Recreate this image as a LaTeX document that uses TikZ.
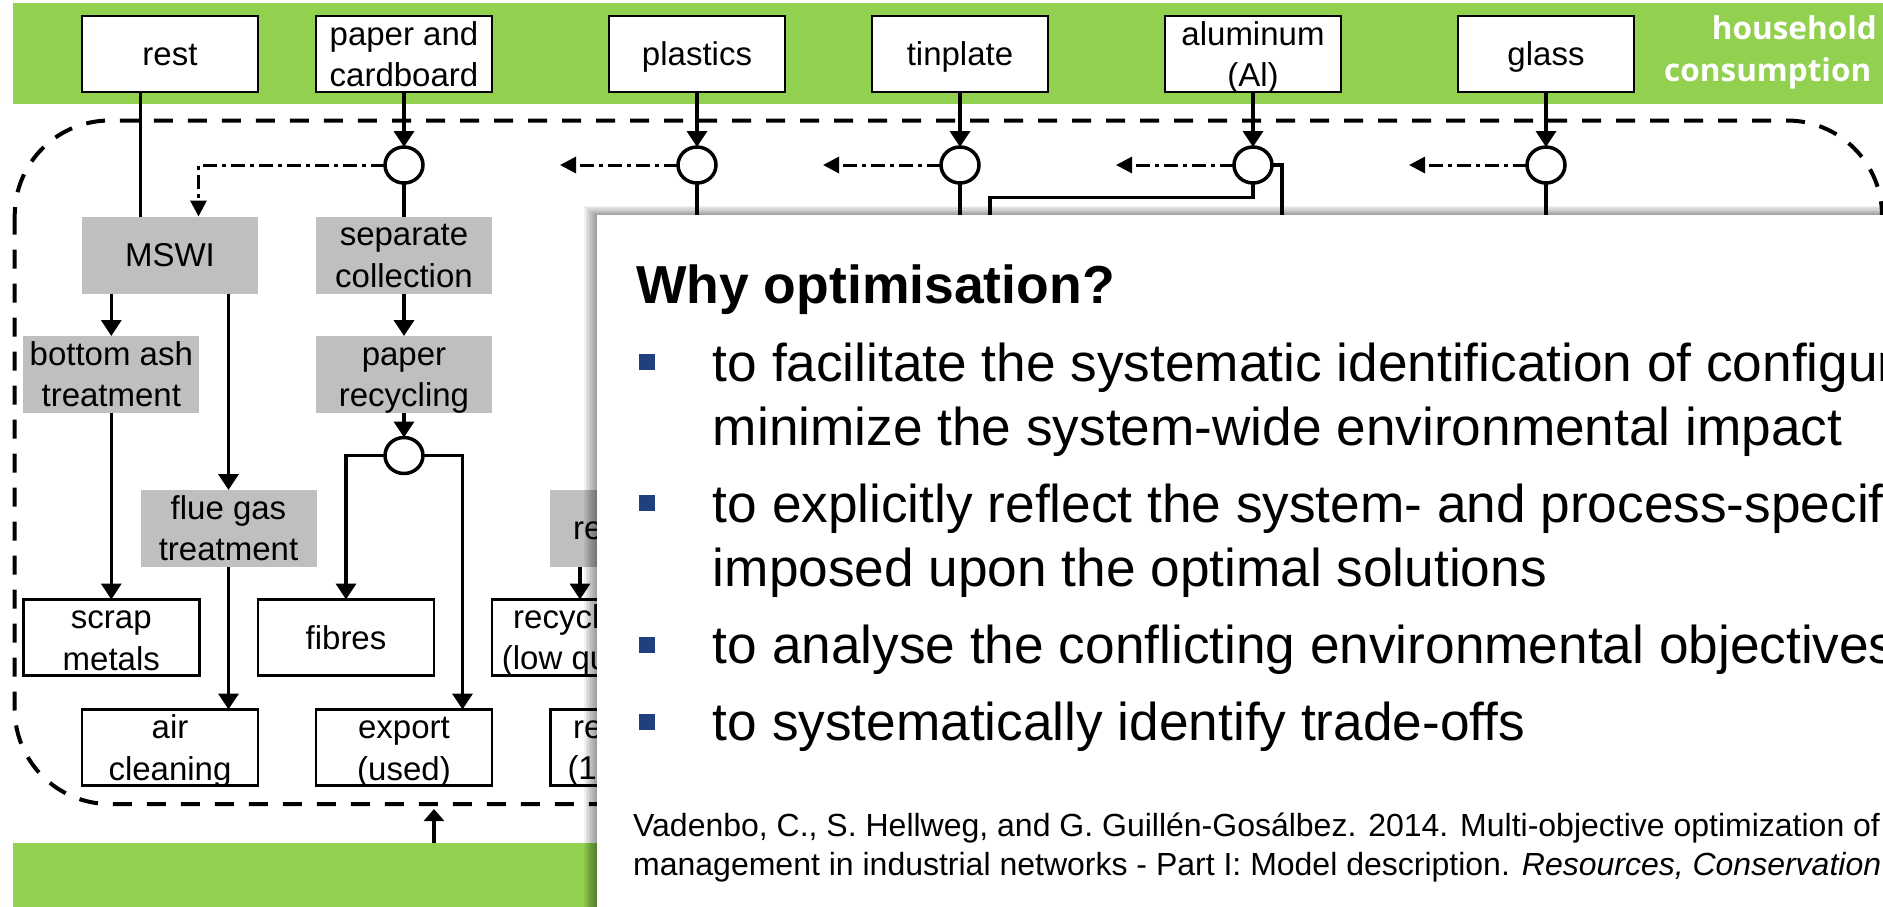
\documentclass[tikz,border=0pt]{standalone}
\usepackage{fontspec}
\setmainfont{Liberation Sans}
\newfontfamily\hhfont{Open Sans}
\usetikzlibrary{arrows.meta,shapes.geometric,calc}
\definecolor{bandgreen}{HTML}{92D050}
\definecolor{procgray}{HTML}{BFBFBF}
\definecolor{bulletblue}{HTML}{1F407D}
\tikzset{
  box/.style={draw=black, line width=2.5pt, fill=white, minimum width=176pt, minimum height=76pt, inner sep=0pt, outer sep=0pt},
  gbox/.style={fill=procgray, minimum width=176pt, minimum height=77pt, inner sep=0pt, outer sep=0pt},
  junction/.style={ellipse, draw=black, line width=3.5pt, fill=white, minimum width=38pt, minimum height=36pt, inner sep=0pt, outer sep=0pt},
  flow/.style={line width=3.5pt},
  arr/.style={flow, -{Triangle[width=20pt,length=16pt]}},
  uparr/.style={flow, -{Triangle[width=20pt,length=12pt]}},
  ddarr/.style={line width=3pt, dash pattern=on 14pt off 5pt on 4pt off 5pt, -{Triangle[width=16pt,length=16pt]}},
  bound/.style={line width=4pt, dash pattern=on 19pt off 15pt},
  lbl/.style={anchor=base, inner sep=0pt, font=\fontsize{33}{40}\selectfont},
  cutlbl/.style={anchor=base west, inner sep=0pt, font=\fontsize{33}{40}\selectfont},
  txt/.style={anchor=base west, inner sep=0pt, font=\fontsize{53.2}{64}\selectfont},
  cite/.style={anchor=base west, inner sep=0pt, font=\fontsize{32}{38}\selectfont},
  bullet/.style={fill=bulletblue, minimum size=16pt, inner sep=0pt},
  hh/.style={anchor=base west, inner sep=0pt, text=white, font=\hhfont\bfseries\fontsize{31.5}{40}\selectfont},
}
\newcommand\onel[2]{\node[lbl] (#1-a) at ($(#1.north)+(0,49.7)$) {#2};}
\newcommand\twol[3]{\node[lbl] (#1-a) at ($(#1.north)+(0,29.3)$) {#2};
  \node[lbl] (#1-b) at ($(#1.north)+(0,70.7)$) {#3};}
\begin{document}
\begin{tikzpicture}[x=1pt,y=-1pt]
\useasboundingbox (0,0) rectangle (1883,906);
\clip (0,0) rectangle (1883,906);
% green bands
\fill[bandgreen] (12.5,3) rectangle (1890,104);
\fill[bandgreen] (12.5,843) rectangle (700,910);
\node[hh] (hh1) at (1711.7,39.3) {household};
\node[hh] (hh2) at (1664,81.7) {consumption};
% system boundary
\draw[bound, rounded corners=95pt] (14.7,120.5) rectangle (1882,804);
% top row
\node[box] (rest) at (170,54) {};
\node[box] (paper) at (404,54) {};
\node[box] (plast) at (697,54) {};
\node[box] (tin) at (960,54) {};
\node[box] (alu) at (1253,54) {};
\node[box] (glass) at (1546,54) {};
\onel{rest}{rest}
\twol{paper}{paper and}{cardboard}
\onel{plast}{plastics}
\onel{tin}{tinplate}
\twol{alu}{aluminum}{(Al)}
\onel{glass}{glass}
% junctions
\node[junction] (pc) at (404,165) {};
\node[junction] (plc) at (697,165) {};
\node[junction] (tc) at (960,165) {};
\node[junction] (ac) at (1253,165) {};
\node[junction] (gc) at (1546,165) {};
% processes
\node[gbox] (mswi) at (170,255) {};
\node[gbox] (sep) at (404,255) {};
\node[gbox] (bash) at (111.3,374.5) {};
\node[gbox] (prec) at (404,374.5) {};
\node[gbox] (flue) at (228.5,528.5) {};
\node[gbox] (recp) at (638,528.5) {};
\onel{mswi}{MSWI}
\twol{sep}{separate}{collection}
\twol{bash}{bottom ash}{treatment}
\twol{prec}{paper}{recycling}
\twol{flue}{flue gas}{treatment}
\node[cutlbl] (recp-a) at (573,539.7) {re};
\node[junction] (pc2) at (404,455.5) {};
% outputs
\node[box] (scrap) at (111.3,637.5) {};
\node[box] (fibres) at (346,637.5) {};
\node[box] (recy) at (580,637.5) {};
\node[box] (air) at (170,747.5) {};
\node[box] (export) at (404,747.5) {};
\node[box] (reuse) at (638.7,747.5) {};
\twol{scrap}{scrap}{metals}
\onel{fibres}{fibres}
\twol{air}{air}{cleaning}
\twol{export}{export}{(used)}
\node[cutlbl] (recy-a) at (513,628.3) {recycl};
\node[cutlbl] (recy-b) at (501.7,669.7) {(low qu};
\node[cutlbl] (reuse-a) at (573,738.3) {re};
\node[cutlbl] (reuse-b) at (567.3,779.7) {(1\textsuperscript{s}};
% connectors
\draw[flow] ($(rest.south)+(-29.4,0)$) -- ($(mswi.north)+(-29.4,0)$);
\draw[arr] (paper.south) -- (pc.north);
\draw[arr] (plast.south) -- (plc.north);
\draw[arr] (tin.south) -- (tc.north);
\draw[arr] (alu.south) -- (ac.north);
\draw[arr] (glass.south) -- (gc.north);
\draw[ddarr] (pc.west) -| ($(mswi.north)+(28.5,0)$);
\draw[ddarr] (plc.west) -- ++(-118,0);
\draw[ddarr] (tc.west) -- ++(-118,0);
\draw[ddarr] (ac.west) -- ++(-118,0);
\draw[ddarr] (gc.west) -- ++(-118,0);
\coordinate (alA) at (990,260);
\coordinate (alB) at (1282,260);
\draw[flow] (ac.south) -- ++(0,14.5) -| (alA);
\draw[flow] (ac.east) -| (alB);
\draw[flow] (plc.south) -- (plc.south |- alA);
\draw[flow] (tc.south) -- (tc.south |- alA);
\draw[flow] (gc.south) -- (gc.south |- alA);
\draw[flow] (pc.south) -- (sep.north);
\draw[arr] (sep.south) -- (prec.north);
\draw[arr] (prec.south) -- (pc2.north);
\draw[arr] (pc2.west) -| (fibres.north);
\draw[arr] (pc2.east) -| ($(export.north)+(58.5,0)$);
\draw[arr] (mswi.south -| bash.north) -- (bash.north);
\draw[arr] (mswi.south -| flue.north) -- (flue.north);
\draw[arr] (bash.south) -- (scrap.north);
\draw[arr] (flue.south) -- (air.north -| flue.south);
\draw[arr] (recp.south -| recy.north) -- (recy.north);
\coordinate (bsrc) at (434,843);
\coordinate (btip) at (434,809);
\draw[uparr] (bsrc) -- (btip);
% overlay panel with shadow
\foreach \i in {1,...,8}{
  \fill[black, opacity=0.055] ({596.7-1.6*\i},{215-1.1*\i}) rectangle (1900,920);
}
\fill[white] (596.7,215) rectangle (1900,920);
\node[anchor=base west, inner sep=0pt, font=\bfseries\fontsize{53.5}{62}\selectfont] (title) at (636,303.3) {Why optimisation?};
\node[bullet] (b1) at (647,362) {};
\node[bullet] (b2) at (647,503) {};
\node[bullet] (b3) at (647,644.5) {};
\node[bullet] (b4) at (647,722) {};
\node[txt] (l1) at (712.7,381.7) {to facilitate the systematic identification of configur};
\node[txt] (l2) at (712.7,445) {minimize the system-wide environmental impact};
\node[txt] (l3) at (712.7,522.7) {to explicitly reflect the system- and process-specif};
\node[txt] (l4) at (712.7,586) {imposed upon the optimal solutions};
\node[txt] (l5) at (712.7,663.3) {to analyse the conflicting environmental objectives};
\node[txt] (l6) at (712.7,740) {to systematically identify trade-offs};
\node[cite] (c1) at (633,836.7) {Vadenbo, C., S. Hellweg, and G. Guillén-Gosálbez. 2014. Multi-objective optimization of w};
\node[cite] (c2) at (633,875) {management in industrial networks - Part I: Model description. \textit{Resources, Conservation}};
\end{tikzpicture}
\end{document}
